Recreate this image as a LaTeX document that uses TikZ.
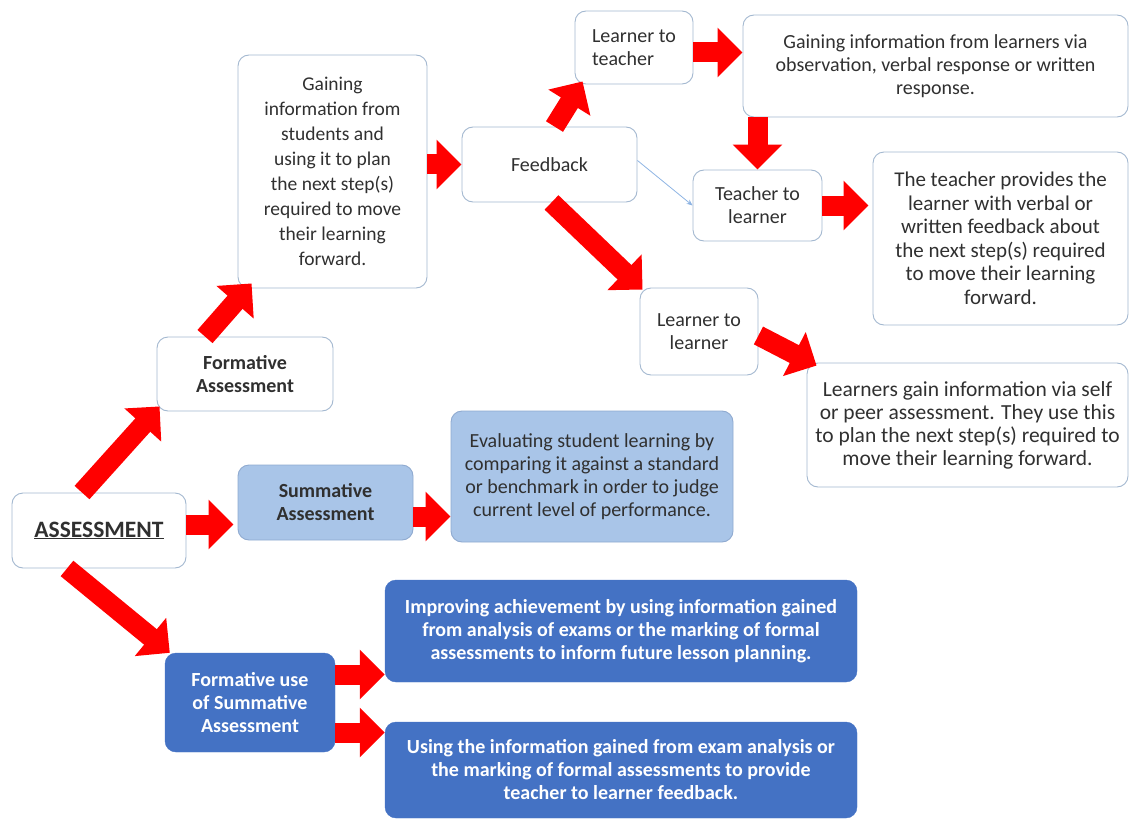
\documentclass[tikz,border=0pt]{standalone}
\usepackage{fontspec}
\setmainfont{Carlito}
\usetikzlibrary{arrows.meta}

\definecolor{boxline}{HTML}{A3B8D0}
\definecolor{paleblue}{HTML}{A9C5E8}
\definecolor{palebluedraw}{HTML}{8FAAD0}
\definecolor{deepblue}{HTML}{4472C4}
\definecolor{arrowred}{HTML}{FF0000}
\definecolor{textgray}{HTML}{303030}
\definecolor{thinblue}{HTML}{8EB4E3}

\begin{document}
\begin{tikzpicture}[x=1pt, y=-1pt,
  every node/.style={font=\fontsize{20}{23}\selectfont, text=textgray, align=center, inner sep=0pt},
  boxsize/.style 2 args={minimum width=#1, minimum height=#2},
  txt/.style 2 args={font=\fontsize{#1}{#2}\selectfont},
  boldtxt/.style 2 args={font=\fontsize{#1}{#2}\selectfont\bfseries},
  whitebox/.style={draw=boxline, fill=white, rounded corners=11pt, line width=0.9pt},
  lightbox/.style={draw=palebluedraw, fill=paleblue, rounded corners=11pt, line width=0.9pt},
  darkbox/.style={draw=deepblue, fill=deepblue, rounded corners=11pt, text=white, boldtxt={20}{23}},
  redarrow/.style={arrowred, line width=20pt, -{Triangle[length=25pt,width=48pt]}},
  thinarrow/.style={thinblue, line width=0.8pt, -{Stealth[length=6pt,width=5pt]}}]

\useasboundingbox (0,0) rectangle (1131,821);

% left column
\node[whitebox, boxsize={174pt}{75pt}, boldtxt={23.5}{26}] (assess) at (99,530.5) {\underline{ASSESSMENT}};
\node[whitebox, boxsize={176pt}{74pt}, boldtxt={20}{23}] (form) at (245,374) {Formative\\Assessment};
\node[lightbox, boxsize={175pt}{75pt}, boldtxt={20}{23}] (summ) at (325.5,502.5) {Summative\\Assessment};
\node[darkbox, boxsize={170pt}{99pt}] (fus) at (250,702.5) {Formative use\\of Summative\\Assessment};

% formative branch
\node[whitebox, boxsize={189pt}{233pt}, txt={19.5}{25}] (gainst) at (332.5,171.5) {Gaining\\information from\\students and\\using it to plan\\the next step(s)\\required to move\\their learning\\forward.};
\node[whitebox, boxsize={175pt}{75pt}] (feedb) at (549.5,164.5) {Feedback};
\node[whitebox, boxsize={118pt}{73pt}, align=left] (ltt) at (634,47.5) {Learner to\\teacher};
\node[whitebox, boxsize={385pt}{102pt}] (gainlr) at (935.5,66) {Gaining information from learners via\\observation, verbal response or written\\response.};
\node[whitebox, boxsize={129pt}{71pt}] (ttl) at (757.5,205.5) {Teacher to\\learner};
\node[whitebox, boxsize={255pt}{173pt}, txt={21}{23.5}] (tprov) at (1000.5,238.5) {The teacher provides the\\learner with verbal or\\written feedback about\\the next step(s) required\\to move their learning\\forward.};
\node[whitebox, boxsize={118pt}{87pt}] (ltl) at (699,331.5) {Learner to\\learner};
\node[whitebox, boxsize={321pt}{124pt}, txt={21.5}{23}] (gainpeer) at (967.5,425) {Learners gain information via self\\or peer assessment. They use this\\to plan the next step(s) required to\\move their learning forward.};

% summative branch
\node[lightbox, boxsize={282pt}{131pt}] (evalb) at (592,476.5) {Evaluating student learning by\\comparing it against a standard\\or benchmark in order to judge\\current level of performance.};
\node[darkbox, boxsize={472pt}{102pt}] (impr) at (621,631) {Improving achievement by using information gained\\from analysis of exams or the marking of formal\\assessments to inform future lesson planning.};
\node[darkbox, boxsize={472pt}{96pt}] (usefb) at (621,770) {Using the information gained from exam analysis or\\the marking of formal assessments to provide\\teacher to learner feedback.};

\begin{scope}[redarrow]
\draw ([xshift=-17pt]assess.north) -- ([xshift=3pt,yshift=5pt]form.south west); %assess-form
\draw ([yshift=6pt]assess.east) -- ([yshift=6pt,xshift=-4pt]assess.east -| summ.west); %assess-summ
\draw ([xshift=-32pt]assess.south) -- ([xshift=5pt]fus.north west); %assess-fus
\draw ([xshift=-40pt]form.north) -- ([xshift=14pt,yshift=5pt]gainst.south west); %form-gainst
\draw (gainst.east |- feedb.west) -- (feedb.west); %gainst-feedb
\draw ([xshift=5pt]feedb.north) -- ([xshift=8pt,yshift=3pt]ltt.south west); %feedb-ltt
\draw ([xshift=2pt]feedb.south) -- ([xshift=3pt,yshift=-2pt]ltl.north west); %feedb-ltl
\draw ([yshift=-5pt]ltt.east) -- ([yshift=-5pt]ltt.east -| gainlr.west); %ltt-gainlr
\draw (ttl.north |- gainlr.south) -- (ttl.north); %gainlr-ttl
\draw (ttl.east) -- ([xshift=-4pt]ttl.east -| tprov.west); %ttl-tprov
\draw ([yshift=-4pt]ltl.east) -- ([xshift=10pt,yshift=-3pt]gainpeer.north west); %ltl-gainpeer
\draw ([yshift=-14pt]summ.east) -- ([yshift=-14pt]summ.east -| evalb.west); %summ-evalb
\draw ([yshift=28pt]fus.east) -- ([yshift=28pt]fus.east -| impr.west); %fus-impr
\draw ([yshift=-30pt]fus.east) -- ([yshift=-30pt]fus.east -| usefb.west); %fus-usefb
\end{scope}

\draw[thinarrow] ([yshift=4pt]feedb.east) -- (ttl.west); %feedb-ttl

\end{tikzpicture}
\end{document}
